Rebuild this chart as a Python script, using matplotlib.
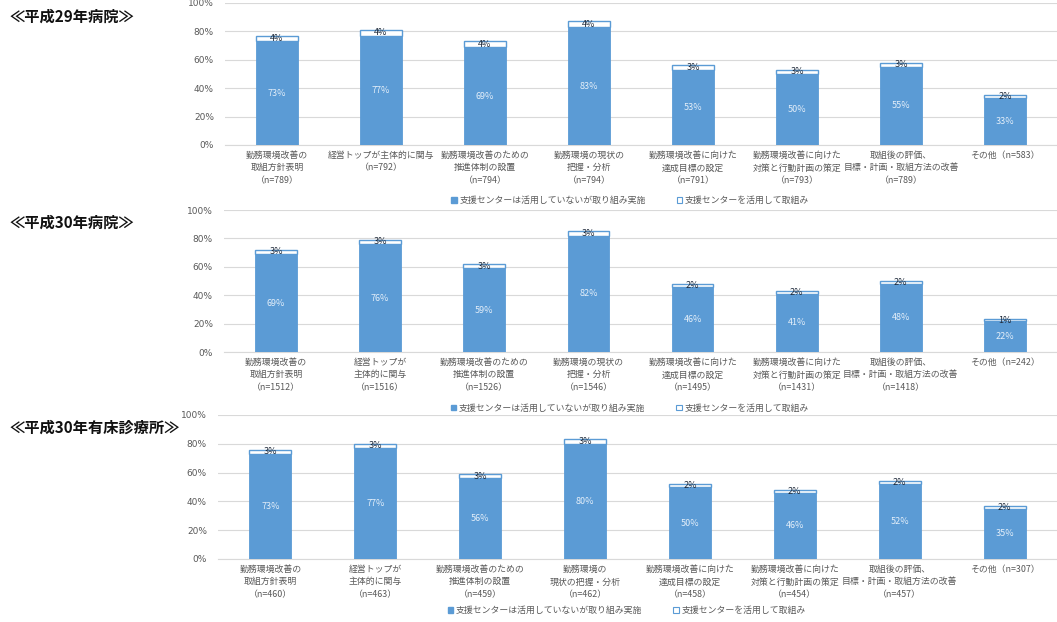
import matplotlib
matplotlib.use("Agg")
import matplotlib.pyplot as plt
from matplotlib.patches import Patch

plt.rcParams['font.family'] = ['Noto Sans CJK JP', 'DejaVu Sans']

# ---- data -------------------------------------------------------------
titles = ["≪平成29年病院≫", "≪平成30年病院≫", "≪平成30年有床診療所≫"]

names_h29 = ["勤務環境改善の\n取組方針表明", "経営トップが主体的に関与",
             "勤務環境改善のための\n推進体制の設置", "勤務環境の現状の\n把握・分析",
             "勤務環境改善に向けた\n達成目標の設定", "勤務環境改善に向けた\n対策と行動計画の策定",
             "取組後の評価、\n目標・計画・取組方法の改善", "その他"]
names_h30 = ["勤務環境改善の\n取組方針表明", "経営トップが\n主体的に関与",
             "勤務環境改善のための\n推進体制の設置", "勤務環境の現状の\n把握・分析",
             "勤務環境改善に向けた\n達成目標の設定", "勤務環境改善に向けた\n対策と行動計画の策定",
             "取組後の評価、\n目標・計画・取組方法の改善", "その他"]
names_clinic = ["勤務環境改善の\n取組方針表明", "経営トップが\n主体的に関与",
                "勤務環境改善のための\n推進体制の設置", "勤務環境の\n現状の把握・分析",
                "勤務環境改善に向けた\n達成目標の設定", "勤務環境改善に向けた\n対策と行動計画の策定",
                "取組後の評価、\n目標・計画・取組方法の改善", "その他"]

n_h29 = [789, 792, 794, 794, 791, 793, 789, 583]
n_h30 = [1512, 1516, 1526, 1546, 1495, 1431, 1418, 242]
n_clinic = [460, 463, 459, 462, 458, 454, 457, 307]

# 支援センターは活用していないが取り組み実施
own_h29 = [73, 77, 69, 83, 53, 50, 55, 33]
own_h30 = [69, 76, 59, 82, 46, 41, 48, 22]
own_clinic = [73, 77, 56, 80, 50, 46, 52, 35]

# 支援センターを活用して取組み
center_h29 = [4, 4, 4, 4, 3, 3, 3, 2]
center_h30 = [3, 3, 3, 3, 2, 2, 2, 1]
center_clinic = [3, 3, 3, 3, 2, 2, 2, 2]

series_labels = ["支援センターは活用していないが取り組み実施", "支援センターを活用して取組み"]
yticks = [0, 20, 40, 60, 80, 100]

panels = [
    (titles[0], names_h29, n_h29, own_h29, center_h29),
    (titles[1], names_h30, n_h30, own_h30, center_h30),
    (titles[2], names_clinic, n_clinic, own_clinic, center_clinic),
]

# ---- layout -----------------------------------------------------------
W, H = 1057, 622
fig = plt.figure(figsize=(W / 100, H / 100), dpi=100)
fig.patch.set_facecolor("white")

# (left px, right px, top px, bottom px, title y px, legend y offset)
boxes = [
    (225, 1057, 3, 145, 17, -0.39),
    (224, 1057, 210, 352, 223, -0.395),
    (218, 1057, 415, 559, 428, -0.36),
]

BLUE = "#5B9BD5"
GRID = "#D9D9D9"
TICK = "#595959"

for (title, names, ns, own, center), (l, r, t, b, ty, leg_y) in zip(panels, boxes):
    ax = fig.add_axes([l / W, 1 - b / H, (r - l) / W, (b - t) / H])
    x = list(range(len(names)))
    cats = []
    for name, n in zip(names, ns):
        if name == "その他":
            cats.append(f"{name}（n={n}）")
        else:
            cats.append(f"{name}\n（n={n}）")

    ax.bar(x, own, width=0.40, color=BLUE, edgecolor=BLUE, linewidth=0.6, zorder=3)
    ax.bar(x, center, width=0.40, bottom=own, color="white",
           edgecolor=BLUE, linewidth=1.0, zorder=3)

    for xi, v, c in zip(x, own, center):
        ax.text(xi, v / 2, f"{v}%", ha="center", va="center", fontsize=6.5,
                color="#E3EEF9", zorder=4)
        ax.text(xi, v + c / 2, f"{c}%", ha="center", va="center", fontsize=6.5,
                color="#1F2A3A", zorder=4)

    ax.set_xlim(-0.5, len(names) - 0.5)
    ax.set_ylim(0, 100)
    ax.set_yticks(yticks)
    ax.set_yticklabels([f"{v}%" for v in yticks], fontsize=6.5, color=TICK,
                       family="DejaVu Sans")
    ax.set_xticks(x)
    ax.set_xticklabels(cats, fontsize=6.4, color=TICK, linespacing=1.55)
    ax.tick_params(axis="both", length=0, pad=4)
    ax.tick_params(axis="y", pad=8)
    ax.grid(axis="y", color=GRID, linewidth=0.8, zorder=0)
    for side in ("top", "right", "left"):
        ax.spines[side].set_visible(False)
    ax.spines["bottom"].set_color(GRID)
    ax.spines["bottom"].set_linewidth(0.8)

    handles = [Patch(facecolor=BLUE, edgecolor=BLUE),
               Patch(facecolor="white", edgecolor=BLUE, linewidth=0.8)]
    ax.legend(handles, series_labels, loc="center", bbox_to_anchor=(0.487, leg_y),
              ncol=2, frameon=False, fontsize=6.4, handlelength=0.6, handleheight=0.6,
              handletextpad=0.3, columnspacing=3.5, labelcolor=TICK)

    fig.text(10 / W, 1 - ty / H, title, fontsize=11, fontweight="bold",
             ha="left", va="center", color="#111111")

fig.savefig("out.png", dpi=100, facecolor="white")
